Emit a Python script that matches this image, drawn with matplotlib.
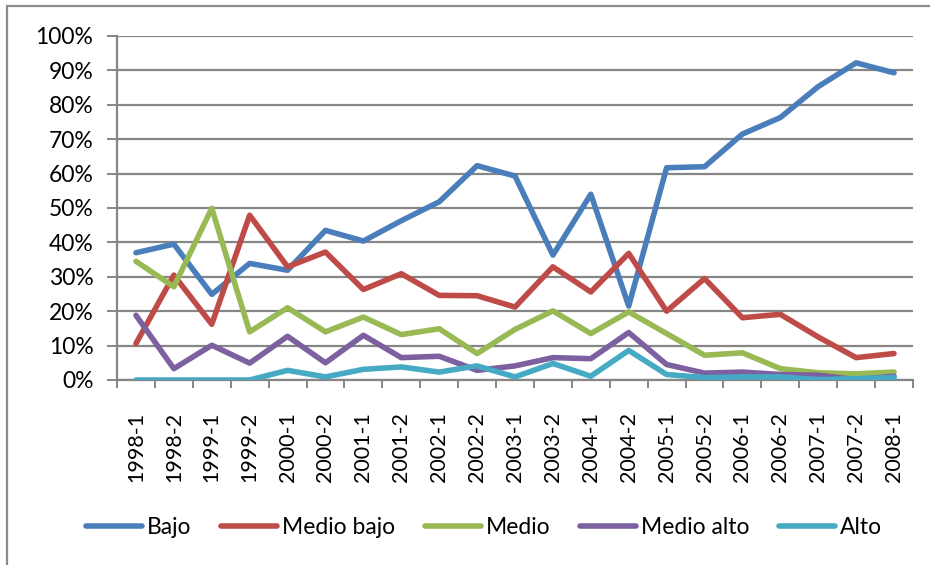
import matplotlib
matplotlib.use("Agg")
import matplotlib.pyplot as plt
from matplotlib.patches import Rectangle
from matplotlib.ticker import FixedLocator, PercentFormatter

categories = ["1998-1", "1998-2", "1999-1", "1999-2", "2000-1", "2000-2", "2001-1",
              "2001-2", "2002-1", "2002-2", "2003-1", "2003-2", "2004-1", "2004-2",
              "2005-1", "2005-2", "2006-1", "2006-2", "2007-1", "2007-2", "2008-1"]

bajo = [37.0, 39.5, 24.9, 33.9, 31.9, 43.5, 40.4, 46.3, 51.8, 62.3, 59.3,
        36.3, 54.0, 21.5, 61.7, 62.0, 71.5, 76.3, 85.3, 92.2, 89.3]
medio_bajo = [10.6, 30.5, 16.2, 47.9, 32.9, 37.2, 26.3, 30.9, 24.6, 24.5, 21.2,
              32.9, 25.6, 36.8, 20.0, 29.5, 18.1, 19.1, 12.5, 6.5, 7.7]
medio = [34.5, 27.1, 49.9, 14.0, 21.0, 14.0, 18.3, 13.2, 14.9, 7.7, 14.7,
         20.1, 13.5, 19.8, 13.5, 7.2, 7.9, 3.3, 2.1, 1.8, 2.3]
medio_alto = [18.8, 3.3, 10.1, 4.9, 12.7, 5.0, 13.0, 6.5, 6.9, 2.8, 4.1,
              6.5, 6.2, 13.8, 4.5, 2.0, 2.3, 1.6, 1.4, 0.1, 1.1]
alto = [0.0, 0.0, 0.0, 0.0, 2.8, 0.9, 3.1, 3.8, 2.3, 4.1, 0.9,
        4.8, 1.1, 8.6, 1.6, 0.7, 0.9, 0.9, 0.1, 0.4, 0.7]

series_names = ["Bajo", "Medio bajo", "Medio", "Medio alto", "Alto"]
colors = ["#4A7EBB", "#BE4B48", "#98B954", "#7D60A0", "#46AAC5"]
y_ticks = [0, 10, 20, 30, 40, 50, 60, 70, 80, 90, 100]

plt.rcParams['font.family'] = ['Lato', 'DejaVu Sans']
W, H = 930, 565
fig = plt.figure(figsize=(W / 100, H / 100), dpi=100)
ax = fig.add_axes([117 / W, 1 - 380 / H, (913 - 117) / W, (380 - 36) / H])

grid_c = "#868686"
x = list(range(len(categories)))
for vals, name, c in zip([bajo, medio_bajo, medio, medio_alto, alto], series_names, colors):
    ax.plot(x, vals, color=c, lw=4.0, label=name, solid_capstyle="round",
            solid_joinstyle="round", zorder=3)

ax.set_xlim(-0.5, len(categories) - 0.5)
ax.set_ylim(0, 100)
ax.set_yticks(y_ticks)
ax.yaxis.set_major_formatter(PercentFormatter(decimals=0))
ax.yaxis.grid(True, color=grid_c, lw=1.6)
ax.set_axisbelow(True)

ax.set_xticks(x)
ax.set_xticklabels(categories, rotation=90)
ax.xaxis.set_minor_locator(FixedLocator([i - 0.5 for i in range(len(categories) + 1)]))
ax.tick_params(axis="x", which="major", length=0, pad=23, labelsize=15.5)
ax.tick_params(axis="x", which="minor", length=6, width=1.4, color=grid_c, direction="out")
ax.tick_params(axis="y", length=7, width=1.4, color=grid_c, pad=10, labelsize=16.5)

for s in ["top", "right"]:
    ax.spines[s].set_visible(False)
for s in ["left", "bottom"]:
    ax.spines[s].set_color(grid_c)
    ax.spines[s].set_linewidth(1.6)

fig.patches.append(Rectangle((7 / W, -0.05), 1.1, 1 - 6 / H + 0.05, transform=fig.transFigure,
                             fill=False, edgecolor="#8C8C8C", lw=1.6))

fig.legend(loc="center", bbox_to_anchor=(484 / W, 1 - 528 / H), ncol=5, frameon=False,
           fontsize=16.5, handlelength=2.45, handletextpad=0.2, columnspacing=1.3)

fig.savefig("out.png", dpi=100)
